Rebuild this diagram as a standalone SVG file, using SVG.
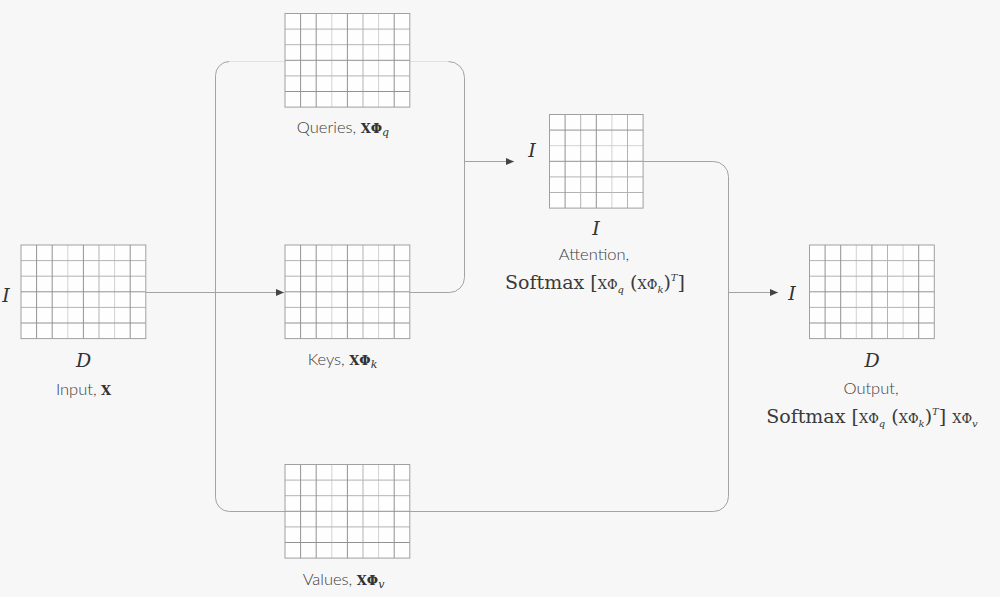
<svg xmlns="http://www.w3.org/2000/svg" xmlns:xlink="http://www.w3.org/1999/xlink" width="1000" height="597" viewBox="0 0 1000 597">
<style>
.cell{fill:#ffffff;fill-opacity:0.88;stroke:none}
.bd{fill:none;stroke:#a0a0a0;stroke-width:1}
.ld{fill:none;stroke:#929292;stroke-width:1}
.lm{fill:none;stroke:#b3b3b3;stroke-width:1}
.ll{fill:none;stroke:#d2d2d2;stroke-width:1}
.conn{fill:none;stroke:#a3a3a3;stroke-width:1}
.connl{fill:none;stroke:#e2e2e2;stroke-width:1}
.lbl{font-family:Lato,"Open Sans","Liberation Sans",sans-serif;font-weight:300;font-size:16.5px;fill:#3c3c3c}
.bx{font-family:"DejaVu Serif","Liberation Serif",serif;font-weight:bold;font-size:13px;fill:#333}
.it{font-family:"DejaVu Serif","Liberation Serif",serif;font-style:italic;fill:#333}
.mi{font-family:"DejaVu Serif","Liberation Serif",serif;font-style:italic;font-size:19px;fill:#333}
.mf{font-family:"DejaVu Serif","Liberation Serif",serif;font-size:19px;fill:#3a3a3a}
.sm{font-size:13px}
.sub{font-size:10px;font-style:italic}
</style>
<defs>
<marker id="arr" markerUnits="userSpaceOnUse" markerWidth="9" markerHeight="8" refX="8" refY="3.5" orient="auto">
<path d="M0,0 L8,3.5 L0,7 z" fill="#444"/>
</marker>
<g id="grid86">
<rect class="cell" x="0" y="0" width="124.8" height="93.6"/>
<path class="ll" d="M46.8,0V93.6M93.6,0V93.6"/>
<path class="lm" d="M78,0V93.6M0,15.6H124.8M0,31.2H124.8M0,62.4H124.8"/>
<path class="ld" d="M15.6,0V93.6M31.2,0V93.6M62.4,0V93.6M109.2,0V93.6M0,46.8H124.8M0,78H124.8"/>
<rect class="bd" x="0" y="0" width="124.8" height="93.6"/>
</g>
<g id="grid66">
<rect class="cell" x="0" y="0" width="93.6" height="93.6"/>
<path class="ll" d="M62.4,0V93.6M0,31.2H93.6"/>
<path class="lm" d="M31.2,0V93.6M78,0V93.6M0,62.4H93.6M0,78H93.6"/>
<path class="ld" d="M15.6,0V93.6M46.8,0V93.6M0,15.6H93.6M0,46.8H93.6"/>
<rect class="bd" x="0" y="0" width="93.6" height="93.6"/>
</g>
</defs>
<rect x="0" y="0" width="1000" height="597" fill="#f7f7f7"/>
<g id="connectors">
<path class="conn" d="M145.5,292.5 H284" marker-end="url(#arr)"/>
<path class="conn" d="M229.5,61.5 A14,14 0 0 0 215.5,75.5 V497.5 A14,14 0 0 0 229.5,511.5 H713.5 A15,15 0 0 0 728.5,496.5 V176.5 A15,15 0 0 0 713.5,161.5 H643"/>
<path class="connl" d="M229.5,61.5 H448.5"/>
<path class="conn" d="M448.5,61.5 A16,16 0 0 1 464.5,77.5 V277.5 A15,15 0 0 1 449.5,292.5 H409"/>
<path class="conn" d="M464.5,161.5 H514" marker-end="url(#arr)"/>
<path class="conn" d="M728.5,292.5 H778" marker-end="url(#arr)"/>
</g>
<g id="input">
<use xlink:href="#grid86" href="#grid86" transform="translate(21,245)"/>
<text class="mi" x="6" y="302" text-anchor="middle">I</text>
<text class="mi" x="83.5" y="367" text-anchor="middle">D</text>
<text class="lbl" x="83.5" y="395" text-anchor="middle">Input, <tspan class="bx">X</tspan></text>
</g>
<g id="queries">
<use xlink:href="#grid86" href="#grid86" transform="translate(285,13.5)"/>
<text class="lbl" x="343" y="133" text-anchor="middle">Queries, <tspan class="bx">XΦ</tspan><tspan class="it" font-size="11" dy="3">q</tspan></text>
</g>
<g id="keys">
<use xlink:href="#grid86" href="#grid86" transform="translate(285,245)"/>
<text class="lbl" x="342.5" y="365" text-anchor="middle">Keys, <tspan class="bx">XΦ</tspan><tspan class="it" font-size="11" dy="3">k</tspan></text>
</g>
<g id="values">
<use xlink:href="#grid86" href="#grid86" transform="translate(285,464.5)"/>
<text class="lbl" x="343.5" y="585" text-anchor="middle">Values, <tspan class="bx">XΦ</tspan><tspan class="it" font-size="11" dy="3">v</tspan></text>
</g>
<g id="attention">
<use xlink:href="#grid66" href="#grid66" transform="translate(549.5,114.5)"/>
<text class="mi" x="532" y="157" text-anchor="middle">I</text>
<text class="mi" x="596" y="235" text-anchor="middle">I</text>
<text class="lbl" x="594" y="260" text-anchor="middle">Attention,</text>
<text class="mf" x="595" y="289" text-anchor="middle">Softmax [<tspan class="sm">XΦ</tspan><tspan class="sub" dy="4">q</tspan><tspan dy="-4"> (</tspan><tspan class="sm">XΦ</tspan><tspan class="sub" dy="4">k</tspan><tspan dy="-4">)</tspan><tspan class="sub" dy="-8">T</tspan><tspan dy="8">]</tspan></text>
</g>
<g id="output">
<use xlink:href="#grid86" href="#grid86" transform="translate(809.5,245)"/>
<text class="mi" x="792" y="300" text-anchor="middle">I</text>
<text class="mi" x="872" y="367" text-anchor="middle">D</text>
<text class="lbl" x="871" y="394" text-anchor="middle">Output,</text>
<text class="mf" x="872" y="423" text-anchor="middle">Softmax [<tspan class="sm">XΦ</tspan><tspan class="sub" dy="4">q</tspan><tspan dy="-4"> (</tspan><tspan class="sm">XΦ</tspan><tspan class="sub" dy="4">k</tspan><tspan dy="-4">)</tspan><tspan class="sub" dy="-8">T</tspan><tspan dy="8">] </tspan><tspan class="sm">XΦ</tspan><tspan class="sub" dy="4">v</tspan></text>
</g>
</svg>
